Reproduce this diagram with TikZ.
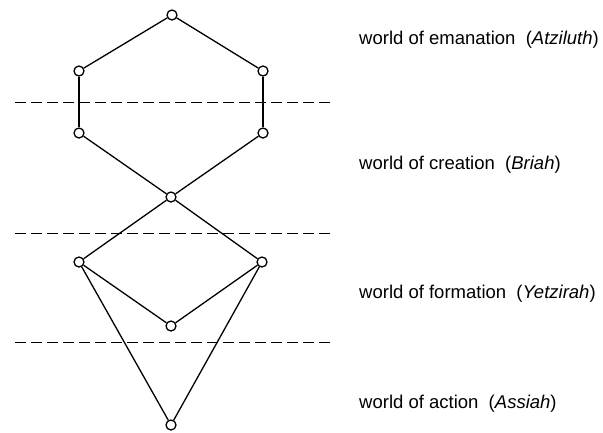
\documentclass[tikz,border=0pt]{standalone}
\usepackage{fontspec}
\setmainfont{Liberation Sans}
\begin{document}
\begin{tikzpicture}[
    x=1pt, y=-1pt,
    punto/.style={draw=black, fill=white, circle, inner sep=0pt, minimum size=10pt, line width=1.3pt},
    linea/.style={line width=1.3pt, draw=black},
    corte/.style={line width=1pt, draw=black, dash pattern=on 11pt off 5pt},
    etiqueta/.style={anchor=base west, inner sep=0pt, font=\fontsize{18.5}{20}\selectfont}
]
    \useasboundingbox (0,0) rectangle (603,432);

    % --- PUNTOS DEL DIAGRAMA ---
    \node[punto] (T)  at (172, 15) {};
    \node[punto] (UL) at (79, 71) {};
    \node[punto] (UR) at (263, 71) {};
    \node[punto] (LL) at (79, 133) {};
    \node[punto] (LR) at (263, 133) {};
    \node[punto] (M)  at (171, 197) {};
    \node[punto] (FL) at (79, 262) {};
    \node[punto] (FR) at (262, 262) {};
    \node[punto] (FM) at (171, 326) {};
    \node[punto] (B)  at (171, 425) {};

    % --- LINEAS DE CORTE ---
    \coordinate (c1a) at (15, 102);  \coordinate (c1b) at (334, 102);
    \coordinate (c2a) at (15, 233);  \coordinate (c2b) at (334, 233);
    \coordinate (c3a) at (15, 342);  \coordinate (c3b) at (334, 342);
    \draw[corte] (c1a) -- (c1b);
    \draw[corte] (c2a) -- (c2b);
    \draw[corte] (c3a) -- (c3b);

    % --- HEXAGONO SUPERIOR ---
    \draw[linea] (T) -- (UL);
    \draw[linea] (T) -- (UR);
    \draw[linea] (UL) -- (LL);
    \draw[linea] (UR) -- (LR);
    \draw[linea] (LL) -- (M);
    \draw[linea] (LR) -- (M);

    % --- ROMBO Y TRIANGULO INFERIOR ---
    \draw[linea] (M) -- (FL);
    \draw[linea] (M) -- (FR);
    \draw[linea] (FL) -- (FM);
    \draw[linea] (FR) -- (FM);
    \draw[linea] (FL) -- (B);
    \draw[linea] (FR) -- (B);

    % --- ETIQUETAS ---
    \node[etiqueta] (e1) at (359, 44) {world of emanation\ \ (\textit{Atziluth})};
    \node[etiqueta] (e2) at (359, 169) {world of creation\ \ (\textit{Briah})};
    \node[etiqueta] (e3) at (359, 298) {world of formation\ \ (\textit{Yetzirah})};
    \node[etiqueta] (e4) at (359, 408) {world of action\ \ (\textit{Assiah})};
\end{tikzpicture}
\end{document}
